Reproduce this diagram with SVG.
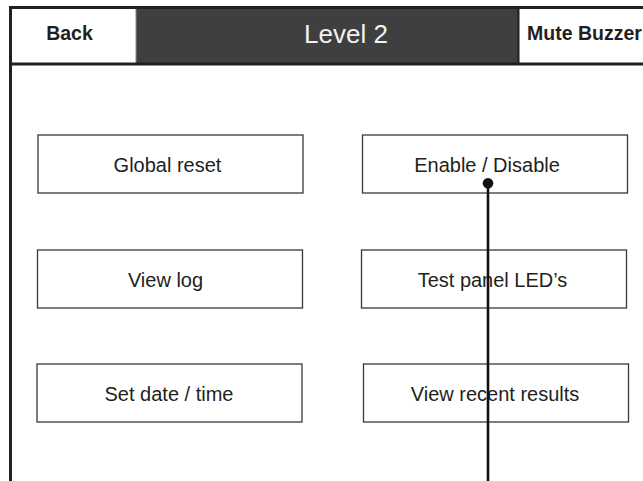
<svg xmlns="http://www.w3.org/2000/svg" width="643" height="481" viewBox="0 0 643 481">
  <style>
    .btn rect { fill: #ffffff; stroke: #3a3a3a; stroke-width: 1.3; }
    .btn text { font-family: "Liberation Sans", Arial, sans-serif; font-size: 20px; fill: #231f20; text-anchor: middle; }
    .tab text { font-family: "Liberation Sans", Arial, sans-serif; font-size: 19.5px; font-weight: bold; fill: #231f20; }
    .frame { fill: none; stroke: #231f20; stroke-width: 3; }
    .wire { stroke: #111111; stroke-width: 2.6; fill: none; }
  </style>
  <rect width="643" height="481" fill="#ffffff"/>

  <!-- header bar -->
  <g id="header">
    <rect x="136" y="8" width="382" height="55" fill="#3f3f3f"/>
    <line x1="136" y1="8" x2="136" y2="63" stroke="#888888" stroke-width="1"/>
    <line x1="518.5" y1="8" x2="518.5" y2="63" stroke="#231f20" stroke-width="2"/>
    <rect class="frame" x="10.5" y="7.5" width="640" height="56.5"/>
    <line class="frame" x1="10.5" y1="64" x2="10.5" y2="481"/>
    <text x="346" y="42.5" font-family="Liberation Sans, Arial, sans-serif" font-size="26" fill="#f2f2f2" text-anchor="middle">Level 2</text>
  </g>

  <g id="back" class="tab">
    <text x="69.5" y="40" text-anchor="middle">Back</text>
  </g>

  <g id="mute-buzzer" class="tab">
    <text x="527" y="40">Mute Buzzer</text>
  </g>

  <!-- menu buttons -->
  <g id="global-reset" class="btn">
    <rect x="38" y="135" width="265" height="58"/>
    <text x="167.5" y="171.5">Global reset</text>
  </g>
  <g id="enable-disable" class="btn">
    <rect x="362.5" y="135" width="265" height="58"/>
    <text x="487" y="171.5">Enable / Disable</text>
  </g>
  <g id="view-log" class="btn">
    <rect x="37.5" y="250" width="265" height="58"/>
    <text x="165.5" y="286.5">View log</text>
  </g>
  <g id="test-panel-leds" class="btn">
    <rect x="361.5" y="250" width="265" height="58"/>
    <text x="492.5" y="286.5">Test panel LED’s</text>
  </g>
  <g id="set-date-time" class="btn">
    <rect x="37" y="364" width="265" height="58"/>
    <text x="169" y="401">Set date / time</text>
  </g>
  <g id="view-recent-results" class="btn">
    <rect x="363.5" y="364" width="265" height="58"/>
    <text x="495" y="401">View recent results</text>
  </g>

  <!-- callout leader -->
  <g id="connectors">
    <line class="wire" x1="488" y1="183.3" x2="488" y2="481"/>
    <circle cx="488" cy="183.3" r="5.3" fill="#111111"/>
  </g>
</svg>
